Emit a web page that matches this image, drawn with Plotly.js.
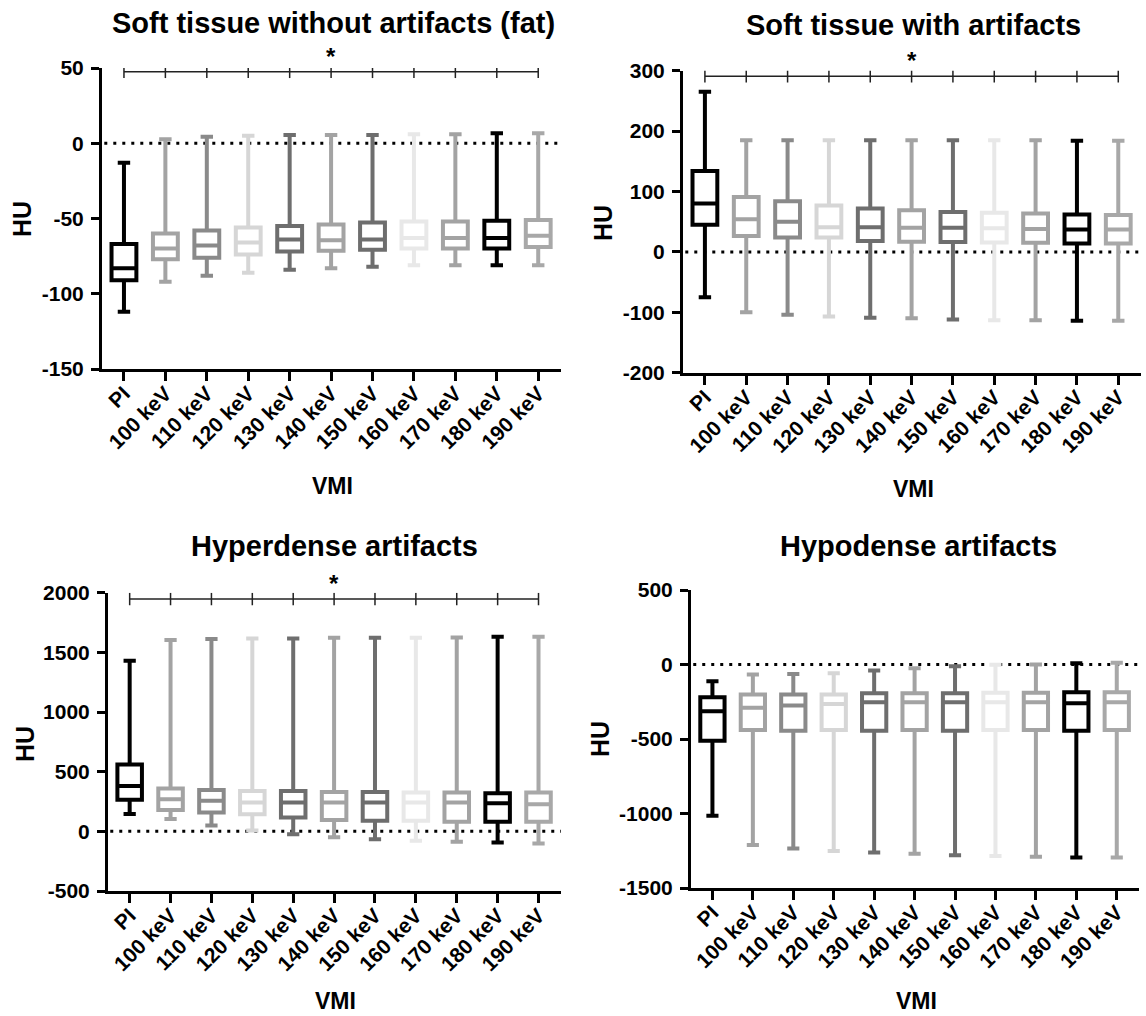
<!DOCTYPE html>
<html>
<head>
<meta charset="utf-8">
<script src="https://cdn.plot.ly/plotly-3.0.1.min.js"></script>
<style>
html,body{margin:0;padding:0;background:#fff;}
#chart{width:1146px;height:1016px;}
</style>
</head>
<body>
<div id="chart"></div>
<script>
// ---------- data ----------
const categories = ['PI','100 keV','110 keV','120 keV','130 keV','140 keV','150 keV','160 keV','170 keV','180 keV','190 keV'];
const boxColors = ['#000000','#a3a3a3','#8a8a8a','#d6d6d6','#6e6e6e','#a3a3a3','#6e6e6e','#e8e8e8','#a3a3a3','#000000','#a8a8a8'];

const titles = ['Soft tissue without artifacts (fat)','Soft tissue with artifacts','Hyperdense artifacts','Hypodense artifacts'];

// Panel 1: Soft tissue without artifacts (fat)
const p1Min = [-112, -92, -88, -86, -84, -83, -82, -81, -81, -81, -81];
const p1Q1  = [-91, -77, -76, -74, -72, -71.5, -70.7, -70, -70, -70, -69];
const p1Med = [-83, -70, -68, -66, -64, -64.5, -64, -63, -63, -63, -61.5];
const p1Q3  = [-67, -60, -58, -56, -55, -54, -52.7, -52, -52, -51.5, -51];
const p1Max = [-13, 2.7, 4.4, 5, 5.5, 5.5, 5.5, 6, 6, 6.7, 6.7];

// Panel 2: Soft tissue with artifacts
const p2Min = [-75, -100, -104, -107, -109, -110, -112, -113, -113, -114, -114];
const p2Q1  = [45, 26.5, 24, 24, 18, 17, 16.5, 15.5, 15, 14, 14];
const p2Med = [80, 54, 50, 41, 41, 40, 40, 39, 38, 37, 37];
const p2Q3  = [134, 91, 84, 77, 72, 69, 66, 65, 63.5, 62, 61];
const p2Max = [265, 185, 185, 185, 185, 185, 185, 185, 185, 184, 184];

// Panel 3: Hyperdense artifacts
const p3Min = [146, 104, 48, 6, -25, -50, -67, -79, -87, -93, -102];
const p3Q1  = [264, 178, 158, 144, 117, 94, 89, 89, 81, 81, 81];
const p3Med = [380, 269, 256, 242, 242, 242, 242, 242, 242, 236, 228];
const p3Q3  = [561, 358, 347, 339, 339, 330, 330, 325, 325, 319, 325];
const p3Max = [1430, 1603, 1611, 1617, 1617, 1622, 1622, 1622, 1625, 1630, 1630];

// Panel 4: Hypodense artifacts
const p4Min = [-1015, -1212, -1235, -1252, -1262, -1270, -1280, -1285, -1290, -1295, -1295];
const p4Q1  = [-511, -439, -444, -439, -444, -439, -444, -439, -439, -444, -439];
const p4Med = [-314, -291, -276, -265, -253, -253, -253, -253, -253, -260, -253];
const p4Q3  = [-220, -202, -202, -202, -193, -193, -193, -190, -190, -186, -186];
const p4Max = [-112, -67, -63, -58, -40, -25, -11, -2, 0, 9, 11];

// y tick values / labels
const p1Ticks = [-150, -100, -50, 0, 50];
const p2Ticks = [-200, -100, 0, 100, 200, 300];
const p3Ticks = [-500, 0, 500, 1000, 1500, 2000];
const p4Ticks = [-1500, -1000, -500, 0, 500];
const p1TickText = ['-150','-100','-50','0','50'];
const p2TickText = ['-200','-100','0','100','200','300'];
const p3TickText = ['-500','0','500','1000','1500','2000'];
const p4TickText = ['-1500','-1000','-500','0','500'];

// significance bars (HU level), null = none
const sigLevel = [47.5, 291, 1947, null];
const sigLabel = '*';
const sigCategory = '140 keV';
const xTitle = 'VMI';
const yTitle = 'HU';

// ---------- build ----------
const W = 1146, H = 1016;
const panels = [
  {min:p1Min,q1:p1Q1,med:p1Med,q3:p1Q3,max:p1Max,ticks:p1Ticks,tt:p1TickText,range:[-150,50],
   xpx:[102,561], ypx:[68,369], title:[333,23], hu:[22,219], vmi:[332,486], vmiBottom:false},
  {min:p2Min,q1:p2Q1,med:p2Med,q3:p2Q3,max:p2Max,ticks:p2Ticks,tt:p2TickText,range:[-200,300],
   xpx:[683,1141], ypx:[70.7,372.7], title:[913,25], hu:[603,223], vmi:[913,489], vmiBottom:false},
  {min:p3Min,q1:p3Q1,med:p3Med,q3:p3Q3,max:p3Max,ticks:p3Ticks,tt:p3TickText,range:[-500,2000],
   xpx:[108,561], ypx:[592.7,891], title:[334,546], hu:[25,744], vmi:[335,1015], vmiBottom:true},
  {min:p4Min,q1:p4Q1,med:p4Med,q3:p4Q3,max:p4Max,ticks:p4Ticks,tt:p4TickText,range:[-1500,500],
   xpx:[691,1139], ypx:[590,888], title:[918,546], hu:[600,739], vmi:[916,1015], vmiBottom:true}
];

const FONT = 'Liberation Sans, Arial, Helvetica, sans-serif';
const traces = [];
const layout = {
  width: W, height: H,
  margin: {l:0, r:0, t:0, b:0},
  paper_bgcolor: '#ffffff', plot_bgcolor: 'rgba(0,0,0,0)',
  showlegend: false,
  boxmode: 'overlay',
  font: {family: FONT, color: '#000', size: 21, weight: 700},
  shapes: [], annotations: []
};

panels.forEach((p, i) => {
  const n = i + 1;
  const xa = 'x' + (n === 1 ? '' : n), ya = 'y' + (n === 1 ? '' : n);
  const xk = 'xaxis' + (n === 1 ? '' : n), yk = 'yaxis' + (n === 1 ? '' : n);
  categories.forEach((c, k) => {
    traces.push({
      type: 'box', x: [c],
      q1: [p.q1[k]], median: [p.med[k]], q3: [p.q3[k]],
      lowerfence: [p.min[k]], upperfence: [p.max[k]],
      xaxis: xa, yaxis: ya,
      width: 0.6, whiskerwidth: 0.5,
      fillcolor: '#ffffff',
      line: {color: boxColors[k], width: 4},
      boxpoints: false, hoverinfo: 'skip'
    });
  });
  if (sigLevel[i] !== null) {
    traces.push({
      type: 'scatter', mode: 'lines+markers',
      x: categories, y: categories.map(() => sigLevel[i]),
      xaxis: xa, yaxis: ya,
      line: {color: '#222', width: 1.5},
      marker: {symbol: 'line-ns', size: 9, line: {color: '#222', width: 1.5}},
      hoverinfo: 'skip'
    });
    layout.annotations.push({
      xref: xa, yref: ya, x: categories.indexOf(sigCategory), y: sigLevel[i],
      text: sigLabel, showarrow: false, yanchor: 'bottom', xanchor: 'center',
      font: {size: 24, family: FONT, weight: 700, color: '#000'}
    });
  }
  layout[xk] = {
    domain: [p.xpx[0]/W, p.xpx[1]/W],
    anchor: ya, type: 'category', categoryorder: 'array', categoryarray: categories,
    range: [-0.53, 10.55],
    showline: true, linewidth: 3, linecolor: '#000',
    ticks: 'outside', ticklen: 9, tickwidth: 3, tickcolor: '#000',
    ticklabelstandoff: -8,
    tickangle: -45, tickfont: {size: 21, family: FONT, weight: 700, color: '#000'},
    showgrid: false, zeroline: false, fixedrange: true
  };
  layout[yk] = {
    domain: [1 - p.ypx[1]/H, 1 - p.ypx[0]/H],
    anchor: xa, range: p.range,
    tickmode: 'array', tickvals: p.ticks, ticktext: p.tt,
    showline: true, linewidth: 3, linecolor: '#000',
    ticks: 'outside', ticklen: 8, tickwidth: 3, tickcolor: '#000',
    ticklabelstandoff: 3,
    tickfont: {size: 21, family: FONT, weight: 700, color: '#000'},
    showgrid: false, zeroline: false, fixedrange: true
  };
  // dotted zero line
  layout.shapes.push({
    type: 'line', xref: xa + ' domain', yref: ya, x0: 0.005, x1: 1, y0: 0, y1: 0,
    line: {color: '#000', width: 3, dash: '3px,6px'}, layer: 'below'
  });
  // titles
  layout.annotations.push({
    xref: 'paper', yref: 'paper', x: p.title[0]/W, y: 1 - p.title[1]/H,
    text: titles[i], showarrow: false, xanchor: 'center', yanchor: 'middle',
    font: {size: 29, family: FONT, weight: 700, color: '#000'}
  });
  layout.annotations.push({
    xref: 'paper', yref: 'paper', x: p.hu[0]/W, y: 1 - p.hu[1]/H,
    text: yTitle, showarrow: false, xanchor: 'center', yanchor: 'middle', textangle: -90,
    font: {size: 25, family: FONT, weight: 700, color: '#000'}
  });
  layout.annotations.push({
    xref: 'paper', yref: 'paper', x: p.vmi[0]/W, y: 1 - p.vmi[1]/H,
    text: xTitle, showarrow: false, xanchor: 'center',
    yanchor: p.vmiBottom ? 'bottom' : 'middle', borderpad: 0,
    font: {size: 23, family: FONT, weight: 700, color: '#000'}
  });
});

Plotly.newPlot('chart', traces, layout, {staticPlot: true, displayModeBar: false});
</script>
</body>
</html>
